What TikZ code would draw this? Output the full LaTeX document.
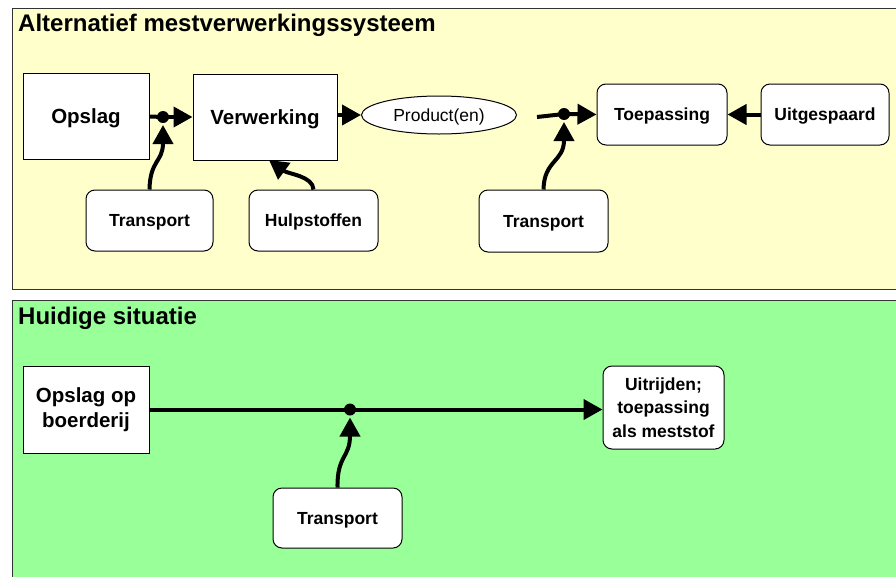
\documentclass[tikz,border=0pt]{standalone}
\usepackage{fontspec}
\setmainfont{Liberation Sans}
\usetikzlibrary{arrows.meta,calc,shapes.geometric}
\definecolor{paneyellow}{HTML}{FFFFCC}
\definecolor{panegreen}{HTML}{99FF99}
\definecolor{paneline}{HTML}{333333}
\tikzset{
  pane/.style={draw=paneline, line width=1pt},
  sqbase/.style={draw=black, fill=white, line width=1pt, inner sep=0pt, align=center,
    font=\fontsize{20.5}{25}\selectfont\bfseries},
  rbase/.style={draw=black, fill=white, line width=1pt, rounded corners=9pt, inner sep=0pt,
    align=center, font=\fontsize{17.5}{23.5}\selectfont\bfseries},
  sqbox/.style={sqbase, text height=14.7pt, text depth=0pt},
  rbox/.style={rbase, text height=12.5pt, text depth=0pt},
  flow/.style={line width=4pt, -{Triangle[length=19pt,width=20pt]}},
  plainflow/.style={line width=4pt},
  junction/.style={circle, fill=black, inner sep=0pt, minimum size=12pt},
  panetitle/.style={anchor=base west, inner sep=0pt, font=\fontsize{24}{28}\selectfont\bfseries}
}
\begin{document}
\begin{tikzpicture}[x=1pt,y=-1pt]
\useasboundingbox (0,0) rectangle (896,576);
\clip (0,0) rectangle (896,576);
% panels
\fill[white] (0,0) rectangle (896,576);
\filldraw[pane, fill=paneyellow] (12,8) rectangle (905,289);
\filldraw[pane, fill=panegreen] (12,300) rectangle (905,585);
\node[panetitle] (t1) at (18,31) {Alternatief mestverwerkingssysteem};
\node[panetitle] (t2) at (18,324) {Huidige situatie};

% top panel nodes
\node[sqbox, minimum width=126pt, minimum height=86pt] (ops) at (86,116.5) {Opslag};
\node[sqbox, minimum width=144pt, minimum height=86pt] (ver) at (265,117) {Verwerking};
\node[draw=black, fill=white, ellipse, line width=1pt, minimum width=155pt, minimum height=38pt,
      inner sep=0pt, text height=12.5pt, text depth=0pt,
      font=\fontsize{17.5}{20}\selectfont] (prod) at (439,115) {Product(en)};
\node[rbox, minimum width=130pt, minimum height=61pt] (toe) at (662,114.5) {Toepassing};
\node[rbox, minimum width=128pt, minimum height=61pt] (uit) at (825,114.5) {Uitgespaard};
\node[rbox, minimum width=127pt, minimum height=61pt] (tr1) at (149.5,220.5) {Transport};
\node[rbox, minimum width=129pt, minimum height=61pt] (hulp) at (313.5,220.5) {Hulpstoffen};
\node[rbox, minimum width=129pt, minimum height=62pt] (tr2) at (543.5,221) {Transport};

\node[junction] (d1) at (163,117) {};
\node[junction] (d2) at (564,114) {};
\coordinate (pend) at (537,117);
\coordinate (hulptip) at (269,160);

% top panel connectors
\draw[plainflow] (ops.east) -- (d1.center);
\draw[flow] (d1.center) -- (ver.west);
\draw[flow] (tr1.north) .. controls (150,160) and (163,162) .. ($(d1.center)+(0,8)$);
\draw[flow] (hulp.north) .. controls (313,176) and (288,174) .. (hulptip);
\draw[flow] (ver.east |- prod.west) -- (prod.west);
\draw[plainflow] (pend) -- (d2.center);
\draw[flow] (d2.center) -- (toe.west);
\draw[flow] (tr2.north) .. controls (544,160) and (564,162) .. ($(d2.center)+(0,8)$);
\draw[flow] (uit.west) -- (toe.east);

% bottom panel
\node[sqbase, minimum width=126pt, minimum height=87pt] (boer) at (86,409.5) {Opslag op\\boerderij};
\node[rbase, minimum width=121pt, minimum height=83pt] (uitr) at (663.5,407.5) {Uitrijden;\\toepassing\\als meststof};
\node[rbox, minimum width=129pt, minimum height=60pt] (tr3) at (337.5,518) {Transport};
\node[junction] (d3) at (350,409.5) {};
\draw[plainflow] (boer.east |- d3) -- (d3.center);
\draw[flow] (d3.center) -- (uitr.west |- d3);
\draw[flow] (tr3.north) .. controls (337,455) and (350,458) .. ($(d3.center)+(0,8)$);
\end{tikzpicture}
\end{document}
